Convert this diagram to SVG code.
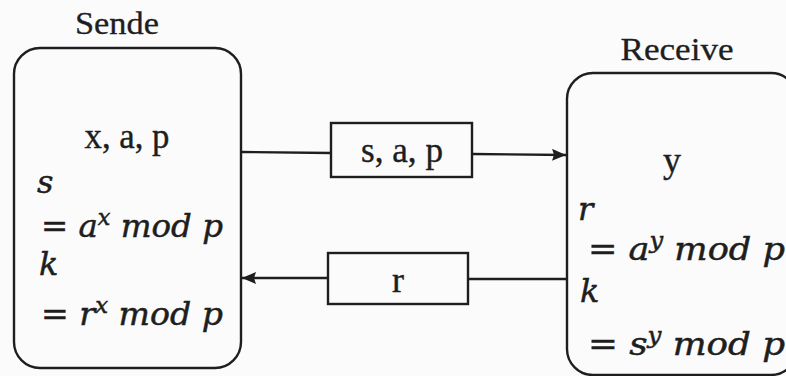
<svg xmlns="http://www.w3.org/2000/svg" width="786" height="376" viewBox="0 0 786 376">
<defs>
<style>
.box{fill:none;stroke:#1e1e1e;stroke-width:2.4}
.ln{stroke:#1e1e1e;stroke-width:2.4;fill:none}
.h{font-family:"Liberation Serif","Times New Roman",serif;font-size:31px;fill:#1e1e1e;stroke:#1e1e1e;stroke-width:0.3}
.t{font-family:"Liberation Serif","Times New Roman",serif;font-size:36px;fill:#1e1e1e;stroke:#1e1e1e;stroke-width:0.4}
.m{font-family:"DejaVu Serif","Liberation Serif",serif;font-size:32px;font-style:italic;fill:#1e1e1e;stroke:#1e1e1e;stroke-width:0.5}
.up{font-style:normal}
.sup{font-size:22px}
</style>
<marker id="ah" viewBox="0 0 14 12" refX="14" refY="6" markerWidth="14" markerHeight="12" markerUnits="userSpaceOnUse" orient="auto">
<path d="M0,0 L14,6 L0,12 L2,6 Z" fill="#1e1e1e"/>
</marker>
</defs>
<rect width="786" height="376" fill="#fbfbfb"/>
<g id="sender">
<text class="h" x="117" y="34" text-anchor="middle" textLength="84" lengthAdjust="spacingAndGlyphs">Sende</text>
<rect class="box" x="14" y="48" width="227" height="320" rx="26"/>
<text class="t" x="127" y="148" text-anchor="middle" textLength="85" lengthAdjust="spacingAndGlyphs">x, a, p</text>
<text class="m" x="37" y="193">s</text>
<text class="m" x="41" y="237" textLength="182" lengthAdjust="spacingAndGlyphs"><tspan class="up">=</tspan> a<tspan class="sup" dy="-12">x</tspan><tspan dy="12"> mod p</tspan></text>
<text class="m" x="39" y="275">k</text>
<text class="m" x="41" y="325" textLength="182" lengthAdjust="spacingAndGlyphs"><tspan class="up">=</tspan> r<tspan class="sup" dy="-12">x</tspan><tspan dy="12"> mod p</tspan></text>
</g>
<g id="receiver">
<text class="h" x="677" y="60" text-anchor="middle" textLength="113" lengthAdjust="spacingAndGlyphs">Receive</text>
<rect class="box" x="567" y="73" width="230" height="302" rx="26"/>
<text class="t" x="672" y="172" text-anchor="middle">y</text>
<text class="m" x="578" y="220">r</text>
<text class="m" x="588" y="260" textLength="197" lengthAdjust="spacingAndGlyphs"><tspan class="up">=</tspan> a<tspan class="sup" dy="-12">y</tspan><tspan dy="12"> mod p</tspan></text>
<text class="m" x="580" y="302">k</text>
<text class="m" x="588" y="355" textLength="197" lengthAdjust="spacingAndGlyphs"><tspan class="up">=</tspan> s<tspan class="sup" dy="-12">y</tspan><tspan dy="12"> mod p</tspan></text>
</g>
<g id="msg-sap">
<rect class="box" x="331" y="123" width="141" height="54"/>
<text class="t" x="402" y="162" text-anchor="middle" textLength="82" lengthAdjust="spacingAndGlyphs">s, a, p</text>
</g>
<g id="msg-r">
<rect class="box" x="328" y="253" width="140" height="51"/>
<text class="t" x="398" y="292" text-anchor="middle">r</text>
</g>
<g id="connectors">
<line class="ln" x1="241" y1="152" x2="331" y2="153"/>
<line class="ln" x1="472" y1="154" x2="566" y2="155" marker-end="url(#ah)"/>
<line class="ln" x1="567" y1="279" x2="468" y2="279"/>
<line class="ln" x1="328" y1="278" x2="242" y2="278" marker-end="url(#ah)"/>
</g>
</svg>
